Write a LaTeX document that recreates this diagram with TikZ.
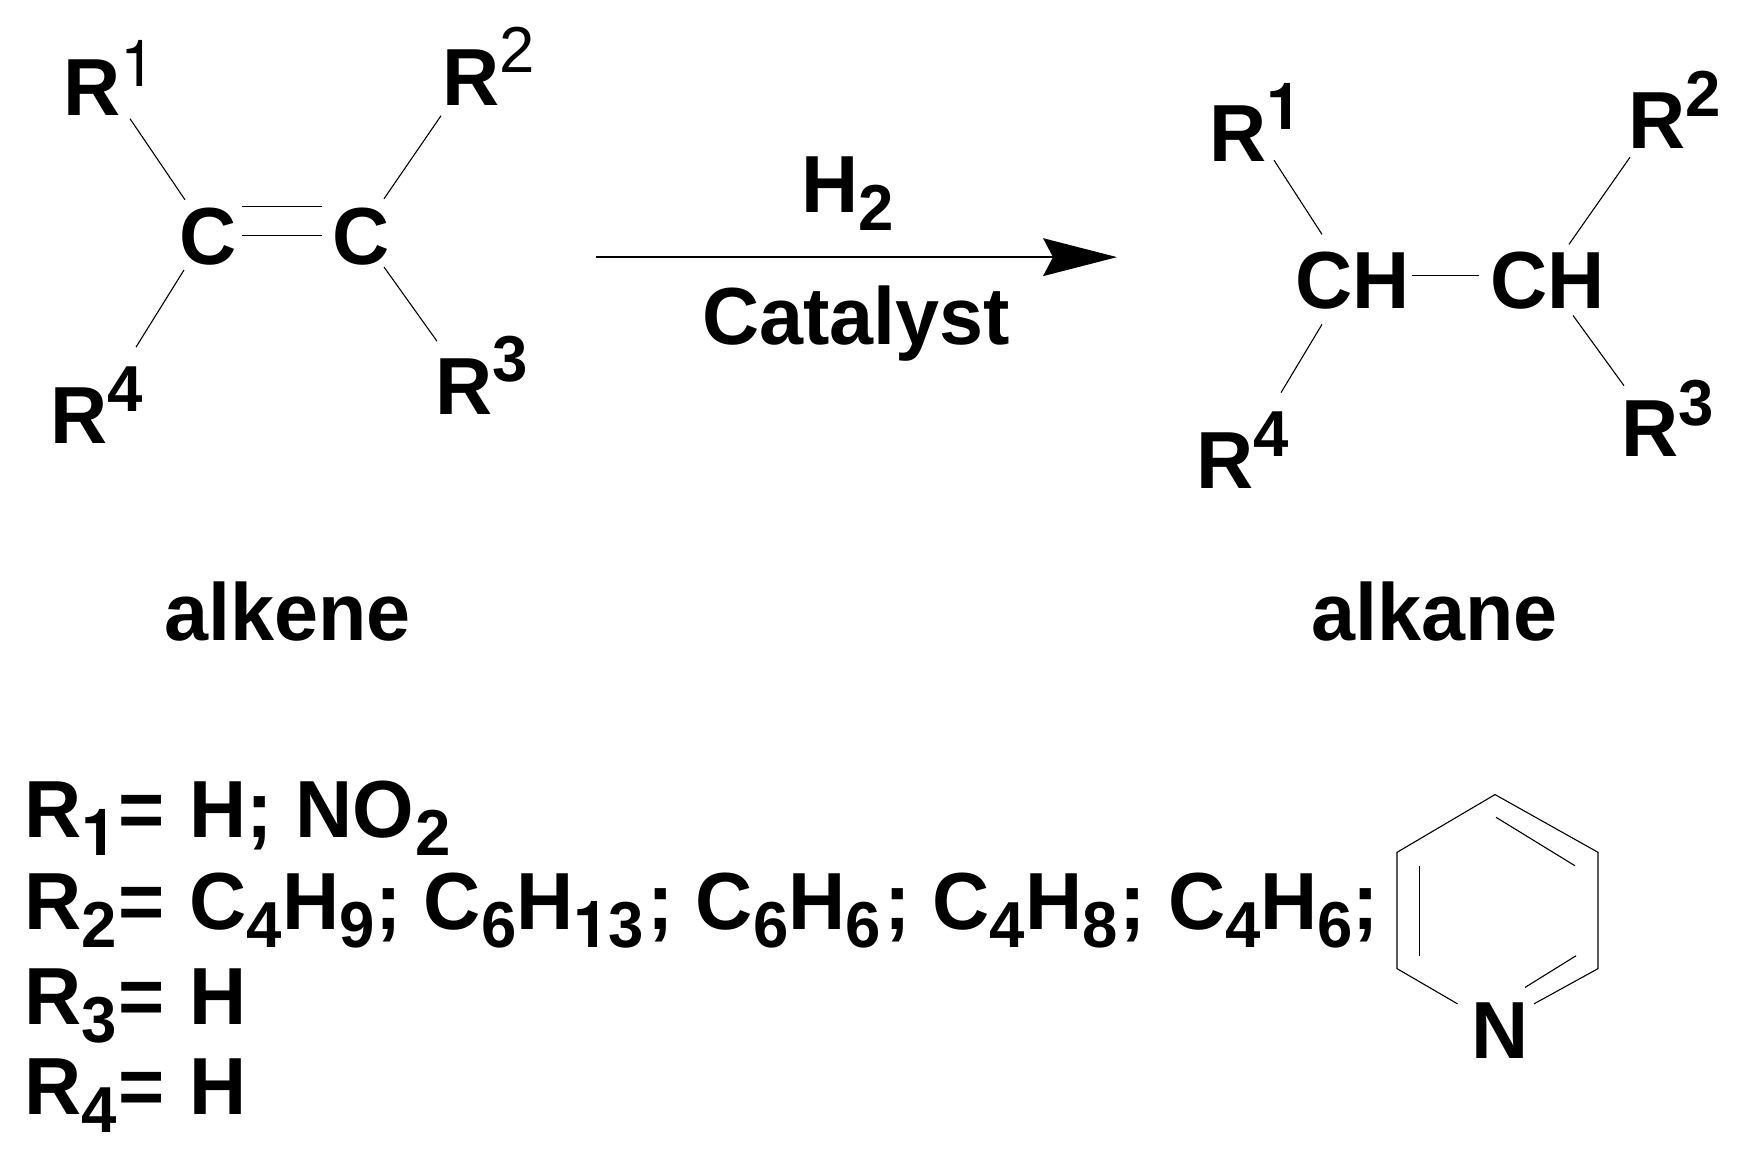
\documentclass[tikz,border=0pt]{standalone}
\usepackage{fontspec}
\setmainfont{Liberation Sans}[FakeStretch=0.977]
\newfontfamily\heros{TeX Gyre Heros}[FakeStretch=0.977]
\usetikzlibrary{arrows.meta}
\newcommand\one{{\heros 1}}
\newcommand\supB[2]{\raisebox{#1pt}{\fontsize{65}{65}\selectfont\bfseries #2}}
\newcommand\supM[2]{\raisebox{#1pt}{\fontsize{65}{65}\selectfont\mdseries #2}}
\newcommand\sbs[1]{\raisebox{-18.5pt}{\fontsize{65}{65}\selectfont\bfseries #1}}
\newcommand\eqs{\kern2.5pt=\kern2.5pt\ }
\tikzset{
  chem/.style={anchor=base west,inner sep=0pt,outer sep=0pt,font=\fontsize{81}{81}\selectfont\bfseries,text=black},
  bond/.style={draw=black,line width=1.1pt},
  rxn/.style={draw=black,line width=1.6pt,-{Stealth[length=74pt,width=38pt,inset=10pt,line width=0pt]}}
}
\begin{document}
\begin{tikzpicture}[x=1pt,y=-0.989pt]
\useasboundingbox (0,0) rectangle (1752,1166.83);
\fill[white] (0,0) rectangle (1752,1166.83);
% alkene
\node[chem] (lR1) at (63,117) {R\supM{29}{\one}};
\node[chem] (lR2) at (442,107) {R\supM{33}{2}};
\node[chem] (lR3) at (435,419.5) {R\supB{33}{3}};
\node[chem] (lR4) at (50,448) {R\supB{32}{4}};
\node[chem] (lC1) at (179,267) {C};
\node[chem] (lC2) at (332,267) {C};
\draw[bond] ([shift={(67,3)}]lR1.base west) -- ([shift={(6,-65)}]lC1.base west);
\draw[bond] ([shift={(-1,10)}]lR2.base west) -- ([shift={(52,-66)}]lC2.base west);
\draw[bond] ([shift={(2,-74.5)}]lR3.base west) -- ([shift={(52,3)}]lC2.base west);
\draw[bond] ([shift={(86,-97)}]lR4.base west) -- ([shift={(5,6)}]lC1.base west);
\draw[bond] ([shift={(63,-58)}]lC1.base west) -- ([shift={(-10,-58)}]lC2.base west);
\draw[bond] ([shift={(63,-29)}]lC1.base west) -- ([shift={(-10,-29)}]lC2.base west);
% arrow
\coordinate (astart) at (596,260);
\coordinate (aend) at (1117,260);
\draw[rxn] (astart) -- (aend);
\node[chem] (h2) at (801,214.5) {H\sbs{2}};
\node[chem] (cat) at (702,348) {Catalyst};
% alkane
\node[chem] (rR1) at (1209,163) {R\supB{32}{\one}};
\node[chem] (rR2) at (1628,150) {R\supB{32}{2}};
\node[chem] (rR3) at (1621,462) {R\supB{31}{3}};
\node[chem] (rR4) at (1196,494) {R\supB{32}{4}};
\node[chem] (rC1) at (1295,312) {CH};
\node[chem] (rC2) at (1490,312) {CH};
\draw[bond] ([shift={(65,-1)}]rR1.base west) -- ([shift={(27,-75)}]rC1.base west);
\draw[bond] ([shift={(2,9)}]rR2.base west) -- ([shift={(79,-65)}]rC2.base west);
\draw[bond] ([shift={(3,-72)}]rR3.base west) -- ([shift={(83,7)}]rC2.base west);
\draw[bond] ([shift={(85,-97)}]rR4.base west) -- ([shift={(27,16)}]rC1.base west);
\draw[bond] ([shift={(117,-33)}]rC1.base west) -- ([shift={(-11,-33)}]rC2.base west);
% names
\node[chem] (alkene) at (164,647.4) {alkene};
\node[chem] (alkane) at (1311,647.4) {alkane};
% substituents
\node[chem] (l1) at (24,846.4) {R\sbs{\one}\eqs H; NO\kern2pt\sbs{2}};
\node[chem] (l2) at (24,939.4) {R\sbs{2}\eqs C\sbs{4}H\sbs{9}\kern1pt; C\sbs{6}H\sbs{\one 3}\kern3.4pt; C\sbs{6}H\sbs{6}\kern3.4pt; C\sbs{4}H\sbs{8}\kern2.2pt; C\sbs{4}H\sbs{6}\kern-1pt;};
\node[chem] (l3) at (24,1035.4) {R\sbs{3}\eqs H};
\node[chem] (l4) at (24,1126.4) {R\sbs{4}\eqs H};
% pyridine
\node[chem] (pN) at (1471,1070) {N};
\coordinate (p1) at (1495,803.4);
\coordinate (p2) at (1598,861.8);
\coordinate (p3) at (1598,979.4);
\coordinate (p5) at (1397,979.4);
\coordinate (p6) at (1397,861.8);
\draw[bond,line join=miter] ([shift={(63,-55)}]pN.base west) -- (p3) -- (p2) -- (p1) -- (p6) -- (p5) -- ([shift={(-13.5,-55)}]pN.base west);
\draw[bond] ([shift={(25,-243.6)}]pN.base west) -- ([shift={(104,-194.6)}]pN.base west);
\draw[bond] ([shift={(-51.4,-194)}]pN.base west) -- ([shift={(-51.4,-103.6)}]pN.base west);
\draw[bond] ([shift={(54,-71.6)}]pN.base west) -- ([shift={(105,-103.6)}]pN.base west);
\end{tikzpicture}
\end{document}
